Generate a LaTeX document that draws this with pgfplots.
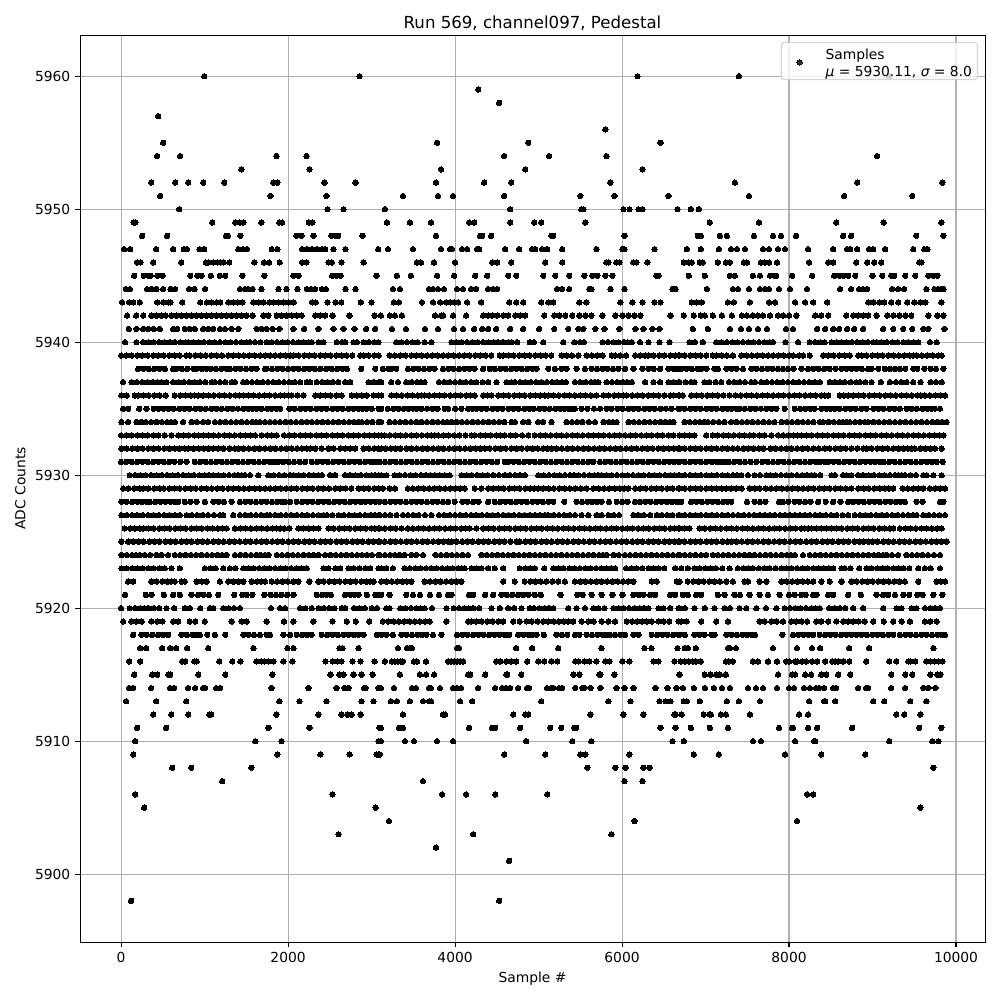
\documentclass[border=0pt]{standalone}
\usepackage{pgfplots}
\pgfplotsset{compat=1.18}
\usepackage{fontspec}
\setmainfont{DejaVu Sans}
\definecolor{gridc}{HTML}{B0B0B0}
\pgfplotsset{table/lv/.style={y expr=#1,x index=0,header=false},
s/.style={only marks,mark=*,mark size=1.95pt,black,mark options={draw=black,fill=black,line width=0pt},forget plot},
s0/.style={only marks,mark=*,mark size=1.95pt,black,mark options={draw=black,fill=black,line width=0pt}}}
\begin{document}
\begin{tikzpicture}
\path[use as bounding box] (-0.80in,-0.58in) rectangle (9.20in,9.42in);
\begin{axis}[at={(0,0)},anchor=south west,scale only axis,width=9.05in,height=9.07in,
xmin=-492,xmax=10347,ymin=5894.9,ymax=5963.1,
xtick={0,2000,4000,6000,8000,10000},ytick={5900,5910,5920,5930,5940,5950,5960},
/pgf/number format/assume math mode=true,/pgf/number format/1000 sep={},scaled ticks=false,
grid=major,grid style={gridc,line width=0.8pt},tick align=outside,tick pos=lower,
major tick length=3.5pt,tick style={black,line width=0.8pt},axis line style={line width=0.6pt},
title={\fontsize{12}{14}\selectfont Run 569, channel097, Pedestal},
title style={yshift=-6.5pt},
xlabel={Sample \#},ylabel={ADC Counts},
legend cell align=left,
legend style={at={(0.9923,0.9923)},anchor=north east,fill=white,fill opacity=0.8,draw opacity=0.8,text opacity=1,draw=black!20,rounded corners=2pt,line width=0.8pt,inner sep=2pt,font=\fontsize{10}{12}\selectfont},
legend image code/.code={\path[draw=none,fill=none] (0pt,-3pt) rectangle (28pt,3pt);\draw[#1] plot coordinates {(11.3pt,-1pt)};}]
\addplot[s0] table[lv=5960] {
996
2856
6184
7400
9200
};
\addlegendentry{\begin{tabular}{@{}l@{}}Samples\\{\itshape μ} = 5930.11, {\itshape σ} = 8.0\rule[-9pt]{0pt}{9pt}\end{tabular}}
\addplot[s] table[lv=5959] {
4276
};
\addplot[s] table[lv=5958] {
4528
};
\addplot[s] table[lv=5957] {
444
};
\addplot[s] table[lv=5956] {
5800
};
\addplot[s] table[lv=5955] {
504
3784
4876
6460
};
\addplot[s] table[lv=5954] {
432
708
1860
2220
4588
5128
5812
9056
};
\addplot[s] table[lv=5953] {
1440
2256
3832
4840
6244
};
\addplot[s] table[lv=5952] {
360
648
804
984
1236
1824
1872
2436
2808
3772
4348
4672
5860
7352
8816
9836
};
\addplot[s] table[lv=5951] {
468
1788
2460
3376
3796
3976
4588
5500
5908
6556
7520
8660
9476
};
\addplot[s] table[lv=5950] {
696
2472
2664
3160
4660
5512
5536
6016
6088
6196
6244
6664
6824
6920
};
\addplot[s] table[lv=5949] {
150
172
1092
1368
1424
1464
1680
1896
1928
2248
2292
3184
3460
3712
4168
4228
4660
4948
5032
5560
7052
7640
8564
9132
9824
};
\addplot[s] table[lv=5948] {
252
552
1256
1280
1428
2100
2160
2304
2520
2576
2600
2892
3772
4300
4324
4432
5152
5176
6028
6908
6944
7172
7256
7580
7808
7904
8084
8648
8744
9524
9848
};
\addplot[s] table[lv=5947] {
36
108
420
624
752
788
940
996
1404
1464
1508
1804
1872
2168
2224
2284
2344
2404
2444
2544
2688
3080
3196
3496
3832
3940
3964
4084
4144
4264
4288
4600
4768
4924
4960
5044
5104
5284
5692
6004
6028
6388
6776
6944
7160
7304
7376
7472
7688
7760
7868
7952
8228
8528
8696
8732
8816
8960
9008
9152
9488
9620
9656
};
\addplot[s] table[lv=5946] {
192
232
384
720
1016
1044
1108
1156
1188
1228
1296
1596
1712
1772
1900
2168
2220
2484
2524
2640
2904
3544
3592
3748
4000
4444
4504
4672
5080
5284
5812
5836
5932
5968
6136
6172
6304
6740
6800
6836
6932
6968
7148
7244
7292
7460
7496
7664
7712
7760
7856
8240
8468
8528
8804
8936
9020
9104
9560
9584
};
\addplot[s] table[lv=5945] {
156
272
324
352
436
500
828
912
964
1076
1184
1248
1452
1716
2064
2124
2528
2576
2628
3060
3304
3472
3784
3988
4240
4384
4636
4732
5056
5200
5368
5548
5644
5704
5800
5884
6412
6436
6800
6992
7292
7352
7568
7652
7772
7820
7844
8036
8276
8540
8600
8648
8708
8792
9000
9116
9224
9260
9392
9512
9668
9728
9776
};
\addplot[s] table[lv=5944] {
56
104
312
364
424
504
592
648
816
880
1008
1424
1484
1524
1576
1680
1884
1980
2112
2224
2276
2324
2404
2452
2688
2808
3256
3340
3688
3736
3796
3868
4024
4096
4192
4252
4396
4456
4504
5224
5284
5368
5608
5632
5860
6028
6604
6640
7016
7328
7388
7520
7652
7712
7760
7880
8012
8216
8612
8744
8840
8888
8936
9236
9308
9380
9644
9740
9788
9824
9848
};
\addplot[s] table[lv=5943] {
12
96
144
224
432
504
568
592
732
948
1028
1084
1148
1188
1284
1348
1396
1452
1584
1644
1704
1776
1824
1884
1948
2008
2068
2288
2332
2472
2568
2636
2872
3000
3268
3328
3604
3736
3820
3892
3940
3988
4036
4144
4312
4648
4732
4816
5032
5116
5176
5488
5572
5980
6124
6244
6388
6460
6836
6896
6956
7268
7340
7532
7760
7832
8072
8192
8288
8456
8948
9008
9080
9140
9224
9308
9416
9500
9572
9632
9824
};
\addplot[s] table[lv=5942] {
72
180
264
364
424
484
536
604
664
724
784
844
904
964
1024
1084
1144
1204
1264
1324
1384
1444
1504
1576
1704
1764
1864
1924
1984
2044
2104
2164
2324
2384
2444
2532
2736
3036
3112
3220
3280
3364
3760
3832
3856
3976
4132
4336
4396
4444
4504
4576
4636
4720
4780
4840
5068
5188
5248
5320
5404
5488
5560
5632
5764
5920
6004
6076
6148
6220
6580
6740
6860
6944
6992
7088
7196
7316
7436
7496
7568
7628
7688
7772
7868
7928
8000
8088
8312
8384
8468
8684
8768
8828
8888
8948
9048
9176
9248
9320
9392
9464
9668
9776
9848
};
\addplot[s] table[lv=5941] {
92
184
264
324
392
464
624
672
764
824
884
984
1044
1104
1184
1244
1324
1404
1624
1684
1744
1816
1896
2064
2192
2364
2544
2664
2796
2936
3044
3244
3412
3640
3796
3988
4096
4228
4324
4396
4492
4660
4816
5008
5188
5356
5476
5536
5680
5788
5968
6160
6256
6364
6448
6848
7028
7292
7424
7520
7628
7736
7964
8048
8336
8432
8528
8600
8696
8780
8888
9128
9248
9368
9476
9608
9668
9860
};
\addplot[s] table[lv=5940] {
48
184
264
328
392
456
520
584
644
708
772
804
864
928
992
1056
1120
1184
1248
1312
1376
1440
1504
1544
1604
1668
1744
1804
1868
1932
1996
2060
2124
2184
2248
2284
2364
2424
2584
2648
2684
2784
2824
2904
2968
3032
3084
3296
3360
3424
3488
3552
3636
3716
3956
4016
4080
4144
4208
4272
4336
4400
4464
4516
4576
4640
4676
4744
4896
4944
5056
5296
5428
5496
5544
5768
5832
5896
5960
6024
6064
6116
6216
6316
6448
6568
6808
6872
6968
7128
7192
7256
7320
7384
7448
7512
7576
7640
7704
7768
7808
7956
8108
8248
8312
8376
8428
8508
8572
8628
8688
8752
8816
8880
8944
9008
9048
9108
9172
9236
9300
9368
9428
9492
9548
9688
9768
};
\addplot[s] table[lv=5939] {
0
64
128
192
256
320
384
448
512
576
640
704
780
824
888
952
1016
1080
1144
1208
1284
1344
1408
1472
1536
1600
1664
1728
1784
1844
1908
1972
2024
2064
2128
2192
2256
2320
2384
2448
2512
2576
2640
2704
2768
2864
2904
2968
3032
3084
3216
3280
3344
3408
3476
3536
3600
3664
3728
3792
3856
3920
3984
4048
4112
4176
4240
4304
4368
4432
4536
4576
4640
4704
4768
4832
4896
4960
5024
5088
5152
5276
5336
5400
5476
5576
5640
5704
5768
5876
5916
5976
6048
6156
6220
6276
6316
6380
6444
6508
6576
6636
6676
6688
6752
6816
6880
6944
7008
7088
7128
7192
7256
7328
7428
7492
7556
7620
7684
7748
7808
7872
7936
8000
8048
8120
8168
8248
8408
8472
8536
8600
8668
8728
8828
8868
8932
8996
9060
9124
9188
9252
9316
9380
9444
9488
9528
9592
9656
9720
9784
9828
};
\addplot[s] table[lv=5938] {
204
268
332
396
460
524
624
664
728
792
864
904
968
1024
1072
1136
1200
1264
1304
1368
1432
1496
1560
1624
1724
1744
1808
1872
1936
2000
2064
2128
2192
2256
2320
2384
2456
2524
2588
2652
2704
2876
3044
3136
3200
3236
3296
3436
3500
3564
3628
3696
3756
3856
3920
3984
4048
4112
4176
4236
4336
4416
4476
4544
4608
4672
4736
4800
4864
4928
4976
5116
5196
5276
5336
5456
5556
5636
5700
5764
5828
5892
5956
6036
6136
6244
6316
6380
6456
6556
6620
6656
6708
6772
6836
6908
6948
7012
7108
7148
7248
7308
7372
7448
7548
7612
7676
7740
7804
7868
7928
7988
8052
8148
8228
8292
8356
8420
8488
8556
8628
8688
8748
8808
8872
8948
8988
9068
9148
9208
9268
9328
9392
9488
9536
9620
9696
9760
9848
};
\addplot[s] table[lv=5937] {
24
124
188
252
316
380
436
484
544
624
688
752
816
880
944
1008
1084
1124
1184
1248
1324
1364
1464
1504
1568
1632
1696
1760
1824
1888
1952
2016
2080
2144
2224
2264
2344
2408
2472
2536
2600
2684
2744
2964
3024
3084
3116
3236
3316
3416
3480
3544
3590
3636
3808
3872
3936
4000
4064
4128
4192
4256
4328
4396
4496
4616
4676
4716
4780
4844
4908
4972
5036
5100
5164
5220
5276
5328
5436
5500
5564
5628
5672
5716
5816
5880
5944
6008
6060
6116
6276
6376
6456
6556
6616
6676
6688
6760
6828
6868
6988
7048
7120
7188
7280
7344
7408
7472
7548
7592
7668
7732
7796
7860
7924
7988
8052
8116
8180
8244
8308
8368
8488
8548
8608
8668
8740
8808
8848
8916
8988
9100
9208
9280
9344
9408
9488
9576
9696
9760
9828
};
\addplot[s] table[lv=5936] {
4
68
164
204
268
332
396
464
536
644
708
772
836
880
924
984
1048
1112
1176
1240
1304
1368
1416
1464
1524
1588
1652
1716
1780
1844
1908
1956
2004
2044
2114
2184
2324
2384
2448
2512
2576
2644
2764
2824
2884
2944
3024
3084
3116
3236
3300
3364
3428
3492
3556
3596
3636
3688
3752
3816
3876
3940
4004
4068
4132
4184
4236
4336
4386
4436
4516
4580
4644
4708
4772
4836
4900
4964
5020
5076
5116
5180
5244
5308
5372
5436
5500
5564
5628
5696
5776
5840
5904
5960
6016
6056
6120
6184
6248
6312
6376
6440
6504
6576
6616
6676
6688
6728
6828
6892
6956
7020
7084
7148
7212
7288
7360
7424
7488
7552
7616
7680
7744
7808
7872
7936
8000
8064
8128
8192
8256
8320
8384
8428
8468
8608
8658
8708
8768
8832
8896
8960
9024
9088
9152
9216
9280
9344
9408
9472
9536
9580
9628
9688
9752
9816
9868
};
\addplot[s] table[lv=5935] {
24
84
216
304
392
444
504
568
632
696
760
824
888
952
1016
1080
1144
1208
1272
1336
1400
1464
1528
1576
1624
1684
1748
1806
1864
1904
2016
2080
2144
2208
2272
2336
2400
2464
2528
2592
2656
2720
2784
2848
2896
2944
3004
3084
3116
3196
3260
3324
3388
3442
3496
3536
3600
3664
3728
3792
3876
3916
4000
4076
4156
4206
4256
4316
4380
4444
4508
4572
4636
4700
4764
4830
4896
4944
5008
5072
5136
5200
5258
5316
5356
5396
5436
5516
5584
5664
5736
5816
5876
5944
6010
6076
6136
6200
6264
6328
6392
6456
6526
6596
6676
6688
6752
6816
6880
6944
7008
7072
7136
7200
7264
7316
7368
7408
7472
7536
7600
7664
7728
7788
7848
7948
8068
8132
8196
8252
8308
8388
8452
8500
8548
8608
8672
8736
8800
8864
8928
9008
9072
9136
9200
9264
9328
9408
9468
9532
9596
9660
9704
9748
9808
};
\addplot[s] table[lv=5934] {
4
84
184
244
296
360
424
488
552
598
644
744
844
908
984
1044
1124
1188
1252
1316
1380
1444
1508
1572
1618
1664
1724
1784
1844
1904
1968
2032
2096
2160
2224
2284
2348
2412
2476
2540
2604
2668
2732
2788
2844
2884
2948
3012
3084
3116
3216
3280
3344
3408
3472
3536
3600
3664
3728
3792
3856
3906
3956
4016
4080
4144
4208
4272
4336
4400
4464
4528
4592
4676
4716
4816
4880
4996
5056
5156
5336
5400
5464
5528
5602
5676
5776
5840
5888
5936
6076
6140
6204
6268
6332
6396
6460
6520
6576
6616
6748
6812
6876
6932
6988
7028
7092
7160
7228
7308
7372
7436
7500
7564
7628
7692
7760
7828
7908
7972
8036
8100
8164
8228
8292
8368
8408
8472
8536
8600
8644
8688
8728
8792
8850
8908
8948
9012
9076
9140
9204
9268
9332
9396
9460
9524
9588
9652
9716
9780
9834
9888
};
\addplot[s] table[lv=5933] {
0
64
128
192
256
320
384
448
524
604
684
748
812
876
930
984
1044
1108
1172
1236
1300
1364
1428
1492
1548
1604
1684
1748
1806
1864
1952
2016
2080
2144
2208
2272
2336
2400
2464
2528
2592
2656
2720
2784
2848
2912
2976
3040
3084
3116
3156
3220
3284
3348
3412
3476
3540
3604
3668
3712
3756
3796
3860
3924
3988
4052
4124
4196
4236
4300
4364
4428
4492
4544
4596
4664
4728
4802
4876
4956
5020
5084
5148
5212
5276
5340
5404
5468
5532
5594
5656
5716
5780
5844
5908
5972
6036
6100
6164
6228
6292
6356
6420
6488
6556
6616
6688
6752
6810
6868
7008
7088
7148
7212
7276
7340
7404
7468
7532
7580
7644
7708
7788
7868
7928
7992
8056
8102
8148
8208
8272
8336
8400
8464
8528
8592
8656
8720
8784
8848
8912
8976
9040
9104
9168
9232
9296
9360
9424
9488
9552
9616
9680
9744
9796
9848
};
\addplot[s] table[lv=5932] {
4
68
132
196
260
324
388
452
516
580
644
700
764
804
868
932
990
1048
1104
1164
1228
1296
1364
1404
1468
1532
1596
1660
1724
1788
1852
1916
1980
2044
2108
2166
2224
2264
2328
2404
2484
2548
2624
2684
2744
2804
2904
2968
3032
3084
3116
3168
3232
3288
3344
3416
3480
3544
3608
3672
3736
3800
3864
3928
3992
4056
4120
4184
4248
4302
4356
4416
4480
4544
4608
4672
4736
4800
4864
4928
4992
5056
5106
5156
5216
5280
5344
5408
5472
5536
5600
5664
5728
5792
5856
5920
5984
6048
6112
6176
6240
6304
6368
6432
6496
6560
6620
6676
6688
6752
6816
6880
6944
7008
7072
7136
7200
7264
7328
7388
7452
7510
7575
7640
7696
7776
7840
7904
7968
8032
8096
8160
8224
8288
8358
8428
8488
8552
8616
8680
8744
8816
8888
8928
8992
9056
9120
9184
9248
9312
9372
9422
9468
9508
9572
9636
9692
9748
9828
};
\addplot[s] table[lv=5931] {
0
64
128
192
256
320
384
448
512
576
640
710
784
884
948
1012
1076
1140
1204
1268
1332
1396
1460
1524
1588
1652
1716
1780
1832
1884
1944
2008
2072
2138
2204
2284
2348
2412
2476
2540
2604
2668
2732
2796
2860
2924
2988
3036
3084
3096
3160
3224
3288
3352
3416
3480
3544
3608
3672
3736
3800
3864
3928
3992
4056
4120
4184
4248
4312
4376
4440
4504
4596
4636
4700
4764
4828
4892
4956
5020
5084
5148
5212
5276
5340
5404
5468
5532
5596
5656
5736
5800
5864
5928
5992
6056
6120
6184
6248
6312
6376
6440
6504
6568
6622
6676
6688
6752
6816
6880
6944
7008
7072
7136
7182
7228
7280
7344
7408
7472
7540
7608
7680
7744
7808
7872
7936
8000
8064
8128
8192
8256
8320
8374
8428
8468
8532
8596
8660
8724
8788
8852
8916
8975
9030
9088
9136
9200
9264
9328
9392
9456
9520
9584
9648
9708
9768
9840
};
\addplot[s] table[lv=5930] {
104
168
232
296
360
424
488
552
616
680
744
808
872
936
1000
1052
1104
1164
1228
1292
1356
1400
1444
1484
1544
1644
1764
1828
1892
1956
2024
2064
2124
2188
2252
2308
2364
2404
2504
2564
2684
2744
2808
2872
2936
3000
3040
3084
3116
3180
3276
3336
3400
3464
3528
3592
3650
3704
3756
3816
3876
3936
4076
4136
4200
4264
4328
4392
4456
4526
4596
4656
4720
4778
4836
4996
5060
5124
5188
5252
5316
5376
5426
5476
5544
5608
5670
5714
5756
5816
5876
5940
6004
6068
6132
6196
6260
6324
6388
6452
6516
6580
6628
6676
6688
6752
6816
6880
6944
7008
7072
7136
7200
7264
7328
7378
7428
7508
7588
7652
7728
7776
7840
7904
7968
8032
8096
8160
8214
8268
8308
8372
8508
8548
8648
8688
8748
8828
8888
8952
9016
9080
9144
9208
9270
9310
9348
9388
9456
9520
9608
9648
9728
9828
};
\addplot[s] table[lv=5929] {
24
88
156
224
264
328
396
464
512
576
640
704
768
832
896
960
1024
1088
1152
1218
1284
1344
1408
1472
1536
1600
1662
1724
1784
1848
1912
1976
2040
2104
2168
2232
2296
2360
2424
2490
2564
2624
2688
2756
2844
2904
2968
3032
3084
3136
3216
3280
3436
3496
3560
3624
3688
3752
3816
3880
3944
4004
4060
4116
4236
4316
4396
4456
4520
4584
4648
4712
4776
4840
4900
4948
4996
5056
5120
5184
5248
5312
5376
5440
5508
5576
5656
5720
5784
5848
5912
5970
6024
6076
6156
6220
6284
6348
6412
6476
6540
6608
6676
6688
6752
6816
6880
6944
7008
7072
7136
7194
7250
7308
7368
7432
7528
7588
7648
7720
7784
7848
7912
7976
8040
8104
8168
8232
8296
8360
8424
8488
8552
8616
8682
8748
8828
8892
8956
9020
9084
9144
9196
9248
9360
9424
9488
9548
9608
9688
9752
9810
9868
};
\addplot[s] table[lv=5928] {
4
68
132
196
250
304
344
408
472
530
590
644
684
764
828
904
1004
1104
1168
1232
1324
1424
1488
1552
1616
1680
1744
1808
1868
1920
1964
2024
2104
2168
2232
2296
2360
2424
2488
2552
2616
2680
2744
2808
2872
2930
2986
3044
3096
3160
3224
3288
3348
3412
3476
3536
3600
3664
3728
3792
3856
3916
3996
4088
4152
4216
4280
4396
4476
4540
4604
4668
4732
4796
4860
4924
4988
5052
5116
5176
5308
5456
5520
5584
5640
5698
5756
5844
5936
6000
6064
6156
6216
6280
6344
6408
6472
6536
6596
6656
6708
6828
6892
6956
7020
7084
7148
7210
7260
7308
7496
7588
7652
7716
7880
7928
7992
8068
8128
8192
8256
8348
8440
8528
8616
8708
8768
8832
8896
8960
9024
9088
9152
9216
9280
9334
9388
9528
9600
9808
9848
};
\addplot[s] table[lv=5927] {
4
68
132
196
260
324
388
452
516
580
644
704
784
848
912
976
1040
1112
1184
1224
1344
1424
1488
1552
1616
1680
1744
1784
1848
1912
1976
2040
2104
2168
2232
2298
2364
2424
2464
2532
2604
2668
2732
2796
2860
2924
2988
3036
3084
3096
3160
3224
3300
3376
3436
3500
3564
3640
3716
3808
3872
3936
4000
4064
4128
4192
4256
4320
4384
4448
4512
4576
4640
4704
4768
4832
4896
4956
5016
5076
5116
5180
5244
5308
5372
5436
5516
5596
5696
5756
5836
5900
5964
6136
6196
6260
6336
6416
6476
6540
6604
6676
6688
6752
6816
6880
6944
7008
7072
7136
7200
7264
7328
7392
7456
7520
7584
7648
7708
7768
7828
7892
7950
8010
8068
8128
8188
8248
8312
8376
8440
8504
8570
8640
8708
8788
8852
8916
8980
9044
9108
9172
9236
9300
9364
9428
9488
9528
9608
9672
9736
9802
9868
};
\addplot[s] table[lv=5926] {
44
108
166
224
264
328
392
456
520
584
648
712
776
840
904
968
1032
1096
1160
1212
1264
1364
1428
1492
1556
1620
1684
1748
1812
1860
1904
1952
2016
2124
2184
2248
2306
2364
2484
2548
2612
2676
2740
2804
2868
2932
2996
3040
3084
3096
3160
3224
3290
3360
3436
3496
3560
3624
3688
3752
3816
3880
3944
4008
4072
4124
4176
4256
4336
4400
4464
4528
4592
4656
4720
4784
4848
4912
4976
5040
5104
5168
5232
5296
5360
5424
5488
5552
5616
5680
5744
5808
5872
5936
6000
6064
6128
6192
6256
6320
6384
6448
6512
6576
6626
6676
6688
6748
6808
6928
6992
7056
7120
7184
7248
7312
7376
7440
7504
7568
7632
7696
7760
7824
7888
7952
8016
8080
8144
8186
8228
8268
8328
8388
8448
8508
8568
8632
8696
8760
8824
8888
8952
9016
9080
9144
9208
9248
9328
9392
9456
9520
9584
9648
9712
9772
9828
};
\addplot[s] table[lv=5925] {
4
84
144
208
272
336
400
464
528
592
656
720
784
848
912
976
1040
1104
1168
1232
1296
1360
1424
1488
1552
1616
1680
1744
1808
1872
1936
2000
2064
2128
2192
2256
2320
2384
2448
2512
2576
2640
2704
2768
2832
2896
2960
3024
3084
3096
3160
3224
3288
3352
3416
3480
3544
3608
3672
3736
3800
3858
3916
3956
4020
4084
4148
4212
4276
4340
4404
4468
4532
4596
4660
4736
4776
4840
4904
4968
5032
5096
5160
5224
5288
5352
5416
5480
5544
5608
5672
5736
5800
5864
5928
5992
6056
6120
6184
6248
6312
6376
6440
6504
6568
6632
6676
6688
6752
6816
6880
6944
7008
7072
7136
7200
7268
7308
7372
7436
7500
7564
7628
7692
7756
7820
7884
7948
8012
8076
8140
8204
8268
8332
8396
8460
8524
8588
8652
8716
8780
8844
8896
8948
9000
9064
9128
9192
9256
9320
9384
9448
9512
9576
9640
9704
9768
9824
9888
};
\addplot[s] table[lv=5924] {
4
68
132
180
224
284
348
424
484
564
644
708
772
836
900
964
1028
1092
1156
1210
1264
1364
1428
1492
1556
1620
1672
1724
1764
1864
1928
1992
2056
2120
2184
2248
2306
2364
2444
2508
2572
2636
2700
2764
2828
2886
2944
3004
3084
3096
3160
3224
3280
3336
3396
3476
3536
3616
3768
3832
3896
3960
4024
4090
4156
4316
4380
4444
4508
4572
4636
4700
4764
4828
4892
4956
5020
5084
5148
5212
5276
5340
5404
5468
5532
5596
5660
5724
5770
5816
5896
5960
6036
6096
6160
6224
6288
6352
6416
6480
6544
6610
6676
6688
6752
6816
6880
6948
7008
7088
7148
7212
7276
7340
7404
7468
7528
7588
7652
7716
7780
7844
7908
7972
8020
8068
8168
8248
8312
8376
8440
8504
8568
8632
8696
8760
8824
8888
8952
9016
9072
9128
9168
9232
9308
9408
9472
9536
9600
9664
9736
9808
};
\addplot[s] table[lv=5923] {
4
68
132
196
260
324
388
456
524
604
704
1004
1068
1132
1224
1304
1368
1464
1524
1588
1652
1716
1780
1844
1908
1972
2036
2100
2164
2224
2424
2484
2564
2624
2724
2788
2852
2924
2984
3084
3116
3176
3256
3396
3460
3524
3588
3652
3716
3780
3844
3908
3972
4036
4080
4116
4196
4256
4316
4396
4476
4576
4776
4840
4898
4956
5068
5176
5240
5296
5368
5432
5496
5560
5624
5688
5752
5816
5868
5916
6048
6116
6176
6240
6316
6376
6436
6504
6636
6708
6788
6868
6932
6996
7060
7124
7200
7288
7388
7452
7510
7568
7640
7704
7768
7840
7908
7968
8032
8096
8160
8224
8288
8352
8416
8476
8528
8628
8668
8736
8840
8928
8992
9056
9120
9184
9248
9308
9368
9440
9548
9628
9696
9808
};
\addplot[s] table[lv=5922] {
84
144
364
428
492
556
600
644
724
764
904
968
1024
1184
1284
1348
1406
1464
1564
1628
1676
1724
1804
1868
1932
1998
2064
2124
2256
2364
2428
2492
2556
2620
2684
2748
2812
2876
2940
2984
3024
3116
3180
3244
3308
3372
3424
3476
3636
3700
3764
3828
3892
3956
4016
4076
4576
4716
4836
4900
4964
5028
5092
5164
5236
5316
5436
5500
5564
5628
5692
5756
5820
5884
5948
6012
6074
6136
6356
6416
6656
6688
6788
6852
6916
6980
7044
7108
7172
7250
7328
7468
7508
7648
7728
7908
7972
8036
8100
8164
8226
8288
8388
8488
8628
8748
8812
8876
8940
9004
9068
9132
9196
9260
9324
9388
9548
9768
9818
9868
};
\addplot[s] table[lv=5921] {
48
296
364
512
624
704
844
924
988
1052
1164
1356
1452
1504
1572
1716
1792
1856
1920
1990
2064
2344
2408
2460
2512
2684
2748
2796
2844
2944
3044
3084
3116
3216
3416
3496
3580
3700
3808
3916
3956
4168
4216
4360
4456
4556
4620
4684
4756
4816
4880
4956
5028
5264
5464
5528
5636
5756
5884
6004
6136
6200
6256
6336
6396
6576
6636
6728
6788
6888
6948
7148
7228
7348
7412
7528
7648
7748
7888
8000
8068
8148
8200
8288
8328
8468
8528
8708
8860
9048
9128
9188
9268
9368
9440
9536
9600
9728
9836
};
\addplot[s] table[lv=5920] {
0
104
168
232
278
324
392
456
544
636
764
824
948
1064
1104
1224
1288
1352
1424
1796
1904
1964
2144
2208
2284
2364
2428
2492
2556
2644
2684
2792
2856
2920
3004
3064
3176
3216
3344
3408
3472
3536
3586
3636
3724
3896
3984
4048
4112
4164
4216
4288
4436
4536
4636
4708
4796
4896
4944
5008
5072
5124
5176
5356
5456
5556
5656
5716
5788
5896
5956
6020
6084
6148
6212
6264
6316
6436
6496
6576
6676
6688
6752
6868
6992
7108
7228
7292
7408
7488
7608
7724
7848
7948
8012
8076
8140
8204
8268
8318
8368
8480
8544
8608
8672
8768
8888
9128
9288
9348
9468
9528
9628
9692
9750
9808
};
\addplot[s] table[lv=5919] {
24
124
184
248
364
432
496
624
684
824
888
1004
1324
1444
1504
1744
1952
2064
2304
2532
2704
2812
2972
3136
3200
3264
3328
3392
3456
3520
3580
3640
3696
3896
4156
4196
4256
4320
4384
4450
4516
4576
4696
4776
4856
4920
4990
5056
5116
5180
5244
5300
5356
5416
5516
5596
5660
5756
5836
5916
6056
6120
6184
6240
6296
6356
6436
6500
6564
6676
6708
6772
6948
7128
7268
7648
7708
7788
7852
7928
8028
8088
8152
8216
8328
8388
8468
8568
8648
8708
8768
8832
8908
9008
9136
9248
9348
9448
9628
9692
9768
};
\addplot[s] table[lv=5918] {
144
244
308
372
444
504
564
724
788
852
898
944
1032
1124
1248
1464
1528
1592
1664
1744
1784
1944
2024
2104
2168
2226
2284
2404
2468
2532
2596
2660
2724
2788
2846
2904
3064
3116
3180
3256
3356
3420
3484
3548
3602
3656
3736
3836
4024
4088
4152
4216
4280
4344
4408
4472
4534
4596
4648
4756
4820
4884
4930
4976
5064
5216
5280
5344
5436
5488
5576
5640
5704
5770
5816
5856
5916
5980
6036
6136
6196
6356
6420
6484
6548
6612
6676
6688
6752
6868
6928
6988
7068
7108
7248
7312
7376
7440
7496
7548
7592
7920
8048
8112
8176
8232
8288
8368
8432
8496
8560
8624
8688
8750
8808
8868
8932
8996
9060
9124
9188
9248
9328
9392
9456
9520
9584
9648
9712
9776
9824
9868
};
\addplot[s] table[lv=5917] {
228
300
492
588
660
792
1044
1584
1992
2064
2616
2652
2844
3316
3424
3456
3484
4024
4048
4732
4924
5236
5752
6268
6352
6664
6752
6788
6884
7268
7292
7364
7808
8096
8276
8372
8720
8960
9728
};
\addplot[s] table[lv=5916] {
96
228
732
768
876
904
1176
1332
1428
1620
1680
1716
1764
1824
1944
2052
2448
2532
2592
2640
2772
2868
3036
3160
3244
3280
3316
3352
3376
3508
3544
3652
3916
3952
3988
4024
4060
4096
4492
4540
4612
4672
4732
4864
4996
5068
5152
5224
5440
5476
5548
5608
5692
5800
5848
6004
6088
6376
6436
6628
6704
6752
6800
6848
6884
6944
7244
7280
7328
7568
7628
7748
7856
7964
8000
8072
8096
8156
8204
8276
8336
8432
8516
8552
8588
8648
8720
8924
9200
9284
9428
9452
9512
9644
9692
9740
9788
9836
};
\addplot[s] table[lv=5915] {
156
372
432
564
588
924
1248
1812
2508
2616
2664
2784
2880
3012
3340
3580
3652
3748
4156
4180
4360
4612
4624
4792
5416
5488
5728
5740
5908
6688
6692
6992
7064
7136
7172
7244
7868
8036
8072
8192
8264
8384
8444
8588
8732
9224
9392
9476
9692
9776
9812
};
\addplot[s] table[lv=5914] {
96
144
360
588
636
804
888
984
1008
1140
1188
1800
2244
2580
2676
2724
2912
2928
3084
3112
3268
3484
3532
3688
3712
3820
3976
4024
4072
4276
4480
4564
4612
4660
4756
4864
4888
5104
5152
5176
5248
5284
5440
5524
5548
5624
5740
5932
6028
6136
6400
6544
6652
6728
6860
6992
7100
7196
7292
7508
7604
7688
7856
8000
8060
8180
8252
8324
8360
8420
8528
8564
8828
8924
8948
9224
9392
9608
9668
9752
};
\addplot[s] table[lv=5913] {
60
420
780
1896
2136
2460
2880
3024
3232
3304
3460
3616
3688
3712
4060
4204
5032
5836
6100
6448
6520
6580
6740
6776
6932
7256
7400
7652
8240
8420
8432
8552
9008
9140
9452
9644
};
\addplot[s] table[lv=5912] {
384
600
804
1056
1080
1860
2364
2640
2712
2760
2868
3376
3856
3880
4696
4840
4876
5620
6016
6256
6628
6640
6716
6980
7052
7064
7184
7244
7532
8120
8228
9284
9380
9572
};
\addplot[s] table[lv=5911] {
192
540
1764
2256
3096
3112
3328
3376
4168
4444
4480
4780
5140
5272
5428
5452
6460
6640
6824
7052
7268
7880
8036
8048
8228
8336
8756
9560
9824
};
\addplot[s] table[lv=5910] {
168
1608
1920
3084
3112
3400
3508
3784
3976
4852
5404
5632
6604
6740
7568
7664
8072
8300
8312
9200
9716
9788
};
\addplot[s] table[lv=5909] {
144
1872
2388
2736
3060
3084
3100
4588
5080
5500
5560
6088
6860
7160
7952
8384
8912
};
\addplot[s] table[lv=5908] {
612
840
1560
5584
5920
6040
6256
6328
9728
};
\addplot[s] table[lv=5907] {
1212
3616
6028
6244
};
\addplot[s] table[lv=5906] {
168
2532
3844
4132
4480
5104
8216
8288
};
\addplot[s] table[lv=5905] {
276
3048
9572
};
\addplot[s] table[lv=5904] {
3208
6148
8096
};
\addplot[s] table[lv=5903] {
2604
4216
5872
};
\addplot[s] table[lv=5902] {
3772
};
\addplot[s] table[lv=5901] {
4648
};
\addplot[s] table[lv=5898] {
120
4528
};
\end{axis}
\end{tikzpicture}
\end{document}
